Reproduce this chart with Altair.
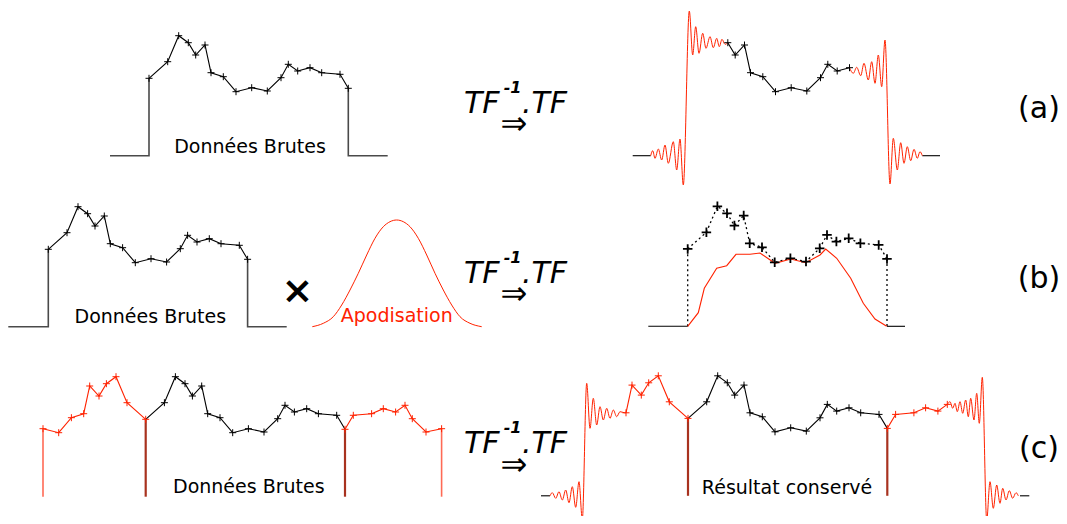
import altair as alt
import pandas as pd

# ---------------- data ----------------
# raw spectrum samples: horizontal offset from first sample, height above baseline
RAW_X = [0, 18.7, 29.7, 39.3, 46.7, 56, 62, 74.3, 87, 102.7, 118.3, 132, 139.3, 148.7, 161, 172.7, 191, 199.3]
RAW_Y = [77.4, 94, 120, 113, 100.7, 110.7, 83, 79, 64, 68, 64.7, 78, 91.4, 84.7, 88, 83, 81.4, 67.4]

# apodised result (red curve, row b)
APOD_X = [0, 10.6, 16.6, 29, 39, 48.3, 62.3, 72.3, 87.3, 103, 118, 132.3, 138, 149, 163, 175.6, 187.3, 199]
APOD_Y = [0, 13.6, 38, 58, 60.6, 72, 72, 73.3, 63, 67.3, 63.6, 71.3, 77.3, 68, 48, 23, 7.3, 0]

# apodisation window (offset from centre, height)
BELL_X = [-84.4, -73.4, -63.4, -55, -46.7, -38.4, -30, -21.7, -13.4, -6.7, 0,
          6.6, 13.3, 21.6, 30, 38.3, 46.6, 55, 63.3, 73.3, 85]
BELL_Y = [0, 3.4, 10, 21.7, 36.7, 53.4, 71.7, 88.4, 100, 105, 106.7,
          105, 100, 88.4, 71.7, 53.4, 36.7, 21.7, 10, 3.4, 0]

# Gibbs ringing extremes
RING_A_LEFT_X = [-37.8, -35.8, -33.5, -30.2, -26.8, -23.5, -20.2, -15.2, -11.8, -8.5, -5.2, 0.8,
                 4.2, 7.2, 10.5, 14.2, 17.5, 21.5, 24.8, 28.2, 30.8, 33.5, 36.5]
RING_A_LEFT_Y = [0, 5, -2.6, 6.7, -4.3, 10.7, -7.6, 14, -14.3, 16.7, -29.3, 144.7,
                 100.7, 129, 102.4, 122.4, 107.4, 119, 108, 117.4, 109, 116.4, 111.4]
RING_A_RIGHT_X = [164.8, 168.2, 172.2, 175.5, 179.8, 183.2, 186.5, 189.8, 193.2, 196.5, 201.5,
                  204.8, 208.8, 212.2, 215.5, 218.8, 222.2, 225.5, 228.8, 231.5, 233.8]
RING_A_RIGHT_Y = [82.4, 88.4, 80, 92.4, 75.7, 94, 72.4, 100.7, 69, 115.7, -28.3,
                  17.4, -14.3, 13, -7.6, 9, -5, 6.4, -2.6, 4, 0]
RING_C_LEFT_X = [-138, -135.7, -132.3, -129, -125.7, -122.3, -119, -115.7, -112.3, -109, -105.7, -101.3,
                 -98, -94.7, -91.3, -88, -84.7, -81.3, -78, -74.7, -71.3, -68, -63.7]
RING_C_LEFT_Y = [0, 3.1, -2.5, 4.1, -4.2, 5.8, -6.9, 9.1, -11.5, 14.1, -23.5, 112.5,
                 67.5, 97.5, 70.8, 89.1, 75.8, 87.5, 77.5, 85.8, 79.1, 84.1, 83.1]
RING_C_RIGHT_X = [262, 264.7, 267, 269.3, 272, 274.7, 277.7, 280.3, 282.7, 286, 288.7, 291.3, 294.3,
                  298.7, 302, 305.3, 308.7, 312, 314.7, 318, 321.3, 324.7, 328, 330.3]
RING_C_RIGHT_Y = [94.1, 87.5, 92.5, 84.1, 94.1, 82.5, 95.8, 79.1, 97.5, 75.8, 102.5, 72.5, 118.5,
                  -24.2, 14.1, -12.5, 10.8, -7.5, 7.5, -4.2, 5.1, -2.5, 3.1, 0]

ROW_TAGS = ["(a)", "(b)", "(c)"]
LBL_RAW = "Données Brutes"
LBL_APOD = "Apodisation"
LBL_KEEP = "Résultat conservé"

# ---------------- layout ----------------
W, H = 1051, 508
P = {"AL": (149.0, 155.7), "BL": (48.3, 326.7), "CL": (145.7, 496.7),
     "AR": (688.5, 155.7), "BR": (687.7, 326.3), "CR": (688.0, 495.8),
     "BELL": (396.7, 326.7)}
WD = RAW_X[-1]
N = len(RAW_X)

layers = {}


def add(layer, name, xs, ys, panel):
    x0, b = P[panel]
    L = layers.setdefault(layer, [])
    for i, (a, c) in enumerate(zip(xs, ys)):
        L.append({"g": name, "o": i, "x": x0 + a, "y": b - c})


def pick(idx, mirror=None):
    xs, ys = [], []
    for k in idx:
        if mirror == "left":
            xs.append(-RAW_X[k])
        elif mirror == "right":
            xs.append(2 * WD - RAW_X[k])
        else:
            xs.append(RAW_X[k])
        ys.append(RAW_Y[k])
    return xs, ys


ALL = list(range(N))
# frames (baseline + verticals) rows a/b left
for pn, lo, hi in [("AL", -39, 238.7), ("BL", -40, 238.4)]:
    add("frame", pn + "l", [lo, 0, 0], [0, 0, RAW_Y[0]], pn)
    add("frame", pn + "r", [WD, WD, hi], [RAW_Y[-1], 0, 0], pn)

# black data lines
for pn in ["AL", "BL", "CL", "CR"]:
    add("black", pn + "d", *pick(ALL), pn)
add("black", "ARd", *pick(range(3, 15)), "AR")
for pn, segs in [("AR", [(-55.8, -37.8), (233.8, 251.5)]),
                 ("BR", [(-39.4, 0), (WD, 217.3)]),
                 ("CR", [(-147, -138), (332, 341.3)])]:
    for j, (a, c) in enumerate(segs):
        add("black", pn + "s%d" % j, [a, c], [0, 0], pn)

# red mirrored data
add("red", "CLml", *pick(range(0, 10), "left"), "CL")
add("red", "CLmr", *pick(range(17, 8, -1), "right"), "CL")
add("red", "CRml", *pick(range(0, 7), "left"), "CR")
add("red", "CRmr", *pick(range(17, 11, -1), "right"), "CR")
add("red", "BRapod", APOD_X, APOD_Y, "BR")

# ringing (smooth)
add("ring", "ARl", RING_A_LEFT_X + [RAW_X[3]], RING_A_LEFT_Y + [RAW_Y[3]], "AR")
add("ring", "ARr", [RAW_X[14]] + RING_A_RIGHT_X, [RAW_Y[14]] + RING_A_RIGHT_Y, "AR")
add("ring", "CRl", RING_C_LEFT_X + [-RAW_X[6]], RING_C_LEFT_Y + [RAW_Y[6]], "CR")
add("ring", "CRr", [2 * WD - RAW_X[12]] + RING_C_RIGHT_X, [RAW_Y[12]] + RING_C_RIGHT_Y, "CR")
add("ring", "bell", BELL_X, BELL_Y, "BELL")

# dotted (row b right)
add("dot", "BRd", *pick(ALL), "BR")
add("dot", "BRv0", [0, 0], [0, RAW_Y[0]], "BR")
add("dot", "BRv1", [WD, WD], [RAW_Y[-1], 0], "BR")

# vertical cut lines (row c)
for pn in ["CL", "CR"]:
    add("dark", pn + "v0", [0, 0], [0, RAW_Y[0]], pn)
    add("dark", pn + "v1", [WD, WD], [0, RAW_Y[-1]], pn)
add("light", "CLo0", [-RAW_X[9]] * 2, [0, RAW_Y[9]], "CL")
add("light", "CLo1", [2 * WD - RAW_X[9]] * 2, [0, RAW_Y[9]], "CL")

# markers
add("pk", "AL", *pick(ALL), "AL")
add("pk", "BL", *pick(ALL), "BL")
add("pk", "CL", *pick(range(1, 17)), "CL")
add("pk", "AR", *pick(range(3, 15)), "AR")
add("pk", "CR", *pick(range(1, 17)), "CR")
add("pr", "CLl", *pick(range(0, 10), "left"), "CL")
add("pr", "CLr", *pick(range(17, 8, -1), "right"), "CL")
add("pr", "CRl", *pick(range(0, 7), "left"), "CR")
add("pr", "CRr", *pick(range(17, 11, -1), "right"), "CR")
add("pb", "BR", *pick(ALL), "BR")

# ---------------- chart ----------------
xs = alt.Scale(domain=[8, 8 + W], nice=False, zero=False)
ys = alt.Scale(domain=[8, 8 + H], nice=False, zero=False, reverse=True)
X = alt.X("x:Q", scale=xs, axis=None)
Y = alt.Y("y:Q", scale=ys, axis=None)

RED = "#ff2200"


def lines(name, color, width, interp="linear", dash=None, opacity=1.0):
    kw = dict(color=color, strokeWidth=width, interpolate=interp, opacity=opacity)
    if dash:
        kw["strokeDash"] = dash
    return alt.Chart(pd.DataFrame(layers[name])).mark_line(**kw).encode(
        x=X, y=Y, detail="g:N", order="o:Q")


PLUS = "M-1,0L1,0M0,-1L0,1"


def marks(name, color, size, width):
    return alt.Chart(pd.DataFrame(layers[name])).mark_point(
        shape=PLUS, size=size, filled=False, stroke=color, strokeWidth=width, opacity=1
    ).encode(x=X, y=Y)


def texts(rows, size, color="black", italic=False, bold=False, align="center"):
    kw = dict(font="DejaVu Sans", fontSize=size, color=color, align=align, baseline="alphabetic")
    if italic:
        kw["fontStyle"] = "italic"
    if bold:
        kw["fontWeight"] = "bold"
    df = pd.DataFrame(rows, columns=["x", "y", "t"])
    return alt.Chart(df).mark_text(**kw).encode(x=X, y=Y, text="t:N")


TF_BASE = [112.7, 282.7, 453.3]
TAG_BASE = [117.7, 287.7, 457.8]

chart = alt.layer(
    lines("frame", "#4a4a4a", 1.6),
    lines("black", "black", 1.1),
    lines("dot", "black", 1.3, dash=[2, 3]),
    lines("red", RED, 1.1),
    lines("ring", RED, 1.0, interp="monotone"),
    lines("dark", "#a8321f", 2.2),
    lines("light", "#ff6a55", 1.6),
    marks("pk", "black", 49, 1.0),
    marks("pr", RED, 49, 1.0),
    marks("pb", "black", 90, 1.8),
    texts([(250, 152.7, LBL_RAW), (150.3, 323.3, LBL_RAW), (248.8, 493.3, LBL_RAW)], 19),
    texts([(787, 494, LBL_KEEP)], 19),
    texts([(396.7, 322, LBL_APOD)], 19, color=RED),
    texts([(297.5, 303, "×")], 38, bold=True),
    texts([(464, b, "TF") for b in TF_BASE] + [(522, b, ".TF") for b in TF_BASE], 30,
          italic=True, align="left"),
    texts([(521.5, b - 20, "-1") for b in TF_BASE], 16, italic=True, bold=True, align="right"),
    texts([(514, b + 21.5, "⇒") for b in TF_BASE], 32),
    texts([(1039, b, t) for b, t in zip(TAG_BASE, ROW_TAGS)], 30),
).properties(width=W, height=H, padding=0, autosize="none").configure_view(stroke=None)

chart.save("out.html", embed_options={"renderer": "svg", "actions": False})
